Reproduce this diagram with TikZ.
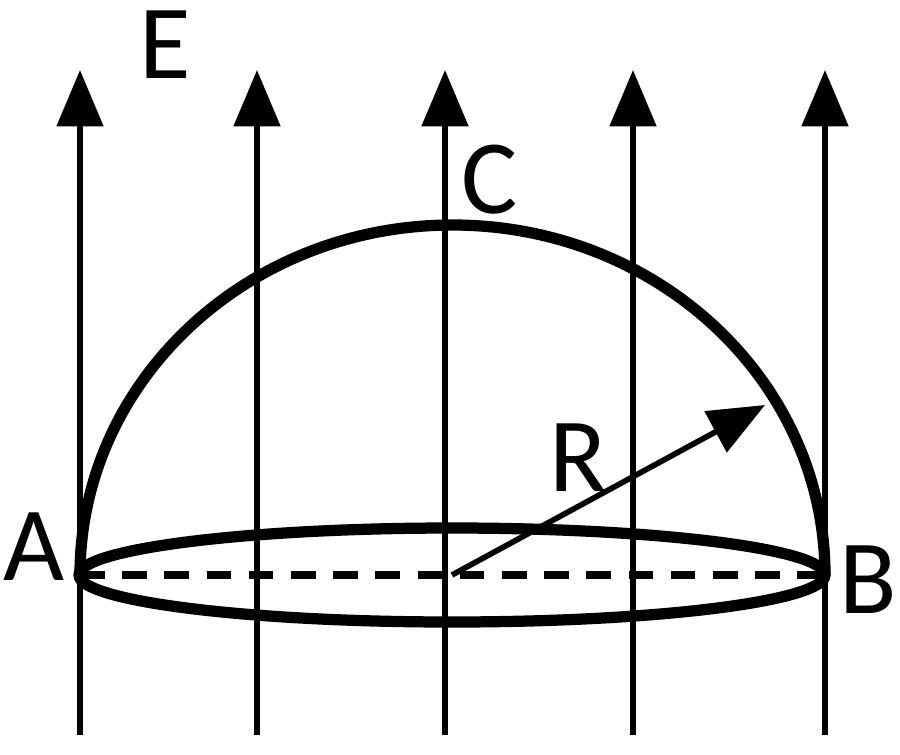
\documentclass[tikz,border=0pt]{standalone}
\usepackage{fontspec}
\setmainfont{Carlito}
\usetikzlibrary{arrows.meta}
\begin{document}
\begin{tikzpicture}[
        x=0.01cm, y=-0.01cm,
        field/.style={line width=1.6pt, -{Triangle[length=16pt,width=13pt]}},
        body/.style={line width=3.2pt},
        lbl/.style={font=\fontsize{30}{30}\selectfont}
    ]
        \useasboundingbox (0,0) rectangle (900,754);

        % field lines
        \foreach \px/\nm in {80/f1, 257/f2, 445/f3, 633/f4, 825/f5} {
            \coordinate (\nm_bot) at (\px,735);
            \coordinate (\nm_top) at (\px,70);
            \draw[field] (\nm_bot) -- (\nm_top);
        }

        % hemisphere
        \coordinate (O) at (452,575);
        \coordinate (A) at (80,575);
        \coordinate (B) at (825,575);
        \draw[body] (O) ellipse [x radius=373, y radius=47];
        \draw[body] (A) arc [start angle=180, end angle=360, x radius=372.5, y radius=350];
        \draw[line width=2.4pt, dash pattern=on 7pt off 5pt] (A) -- (B);

        % radius
        \coordinate (Rtip) at (765,405);
        \draw[line width=1.6pt, -{Triangle[length=16pt,width=13pt]}] (O) -- (Rtip);

        % labels
        \node[lbl] (lE) at (165,45) {E};
        \node[lbl] (lC) at (490,180) {C};
        \node[lbl] (lR) at (578,458) {R};
        \node[lbl] (lA) at (34,547) {A};
        \node[lbl] (lB) at (868,580) {B};
    \end{tikzpicture}
\end{document}
